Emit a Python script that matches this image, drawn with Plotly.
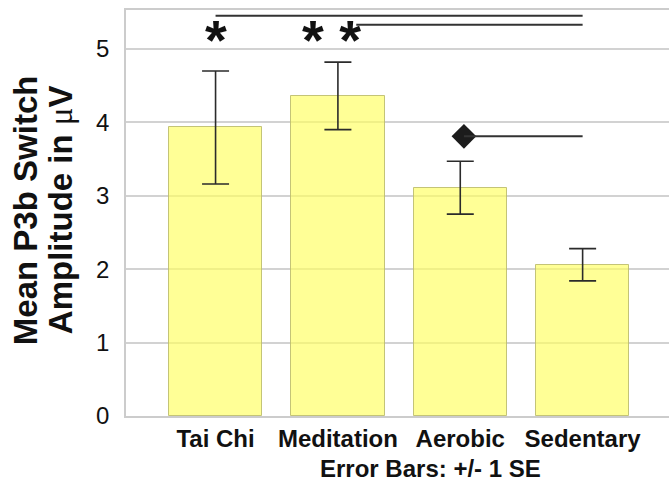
import plotly.graph_objects as go

# Mean P3b switch amplitude per exercise group, with +/- 1 SE
groups = ["Tai Chi", "Meditation", "Aerobic", "Sedentary"]
mean_amp = [3.93, 4.36, 3.11, 2.06]
se_amp = [0.77, 0.46, 0.36, 0.22]
y_ticks = [0, 1, 2, 3, 4, 5]

# Comparisons against the Sedentary group: marker text, marker x, line start x, line y
sig_marks = ["*", "* *"]
sig_mark_x = [0.0, 0.95]
sig_line_x0 = [0.0, 1.15]
sig_line_y = [5.45, 5.33]
diamond_x = [2.03]
diamond_y = [3.81]
ref_x = 3.0

pos = list(range(len(groups)))

fig = go.Figure()
fig.add_trace(go.Bar(
    x=pos, y=mean_amp, width=0.764,
    marker=dict(color="rgba(255,255,95,0.66)",
                line=dict(color="rgba(190,190,110,0.9)", width=1)),
    error_y=dict(type="data", array=se_amp, symmetric=True,
                 color="#2b2b2b", thickness=1.6, width=13.5),
    showlegend=False, hoverinfo="skip",
))

# diamond marker for the Aerobic comparison
fig.add_trace(go.Scatter(
    x=diamond_x, y=diamond_y, mode="markers",
    marker=dict(symbol="diamond", size=19, color="#1c1c1c"),
    showlegend=False, hoverinfo="skip",
))

shapes = []
for x0, y in zip(sig_line_x0, sig_line_y):
    shapes.append(dict(type="line", xref="x", yref="y", x0=x0, x1=ref_x, y0=y, y1=y,
                       line=dict(color="#333333", width=2)))
shapes.append(dict(type="line", xref="x", yref="y", x0=diamond_x[0], x1=ref_x,
                   y0=diamond_y[0], y1=diamond_y[0],
                   line=dict(color="#333333", width=2)))

annotations = []
for txt, x in zip(sig_marks, sig_mark_x):
    annotations.append(dict(text=txt, x=x, y=5.13, xref="x", yref="y",
                            showarrow=False, xanchor="center", yanchor="middle",
                            font=dict(family="Liberation Sans, Arial", size=56,
                                      color="#111111", weight="bold")))

title_font = dict(family="Liberation Sans, Arial", size=33, color="#111111", weight="bold")
annotations.append(dict(text="Mean P3b Switch", textangle=-90, xref="paper", yref="paper",
                        x=0, y=0.507, xshift=-101, showarrow=False,
                        xanchor="center", yanchor="middle", font=title_font))
annotations.append(dict(
    text="Amplitude in <span style=\"font-family:'Liberation Serif';font-weight:normal\">\u03bc</span>V",
    textangle=-90, xref="paper", yref="paper",
    x=0, y=0.507, xshift=-66, showarrow=False,
    xanchor="center", yanchor="middle", font=title_font))
annotations.append(dict(text="Error Bars: +/- 1 SE", xref="x", yref="paper",
                        x=1.76, y=-0.129, showarrow=False,
                        xanchor="center", yanchor="middle",
                        font=dict(family="Liberation Sans, Arial", size=24,
                                  color="#111111", weight="bold")))

fig.update_layout(
    width=669, height=484,
    margin=dict(l=126, r=0, t=10, b=68),
    paper_bgcolor="white", plot_bgcolor="white",
    shapes=shapes, annotations=annotations,
    bargap=0,
    xaxis=dict(
        range=[-0.732, 3.706], tickmode="array", tickvals=pos, ticktext=groups,
        tickfont=dict(family="Liberation Sans, Arial", size=24, color="#111111", weight="bold"),
        showgrid=False, zeroline=False,
        showline=True, linecolor="#cccccc", linewidth=1.5, mirror=True,
        ticks="",
    ),
    yaxis=dict(
        range=[0, 5.53], tickmode="array", tickvals=y_ticks,
        tickfont=dict(family="Liberation Sans, Arial", size=24, color="#111111"),
        showgrid=True, gridcolor="#d2d2d2", gridwidth=1.5,
        zeroline=False, showline=True, linecolor="#cccccc", linewidth=1.5,
        ticks="", ticklabelstandoff=10,
    ),
)

fig.write_html("out.html")
